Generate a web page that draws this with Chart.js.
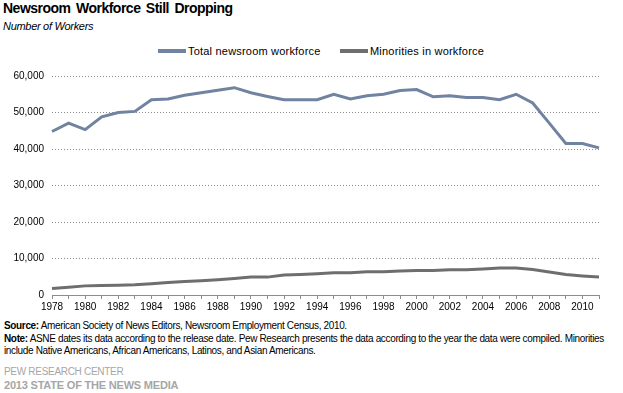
<!DOCTYPE html>
<html lang="en">
<head>
    <meta charset="UTF-8">
    <title>Newsroom Workforce Still Dropping</title>
    <script src="https://cdn.jsdelivr.net/npm/chart.js"></script>
    <style>
        body {
            margin: 0;
            width: 623px;
            height: 393px;
            background: #fff;
            font-family: Arial, 'Liberation Sans', sans-serif;
            color: #000;
            position: relative;
            overflow: hidden;
        }
        .title {
            position: absolute;
            left: 3px;
            top: 0px;
            font-size: 14px;
            font-weight: bold;
            letter-spacing: -0.5px;
            word-spacing: 2px;
        }
        .subtitle {
            position: absolute;
            left: 3px;
            top: 20px;
            font-size: 11px;
            font-style: italic;
            letter-spacing: -0.3px;
        }
        .legend {
            position: absolute;
            top: 45px;
            left: 0;
            font-size: 11px;
            letter-spacing: 0.2px;
        }
        .legend-item {
            position: absolute;
            white-space: nowrap;
        }
        .legend-item span.swatch {
            display: inline-block;
            width: 28px;
            height: 4px;
            vertical-align: middle;
            margin-right: 2px;
            position: relative;
            top: -1px;
        }
        .chart-box {
            position: absolute;
            left: 0;
            top: 40px;
            width: 623px;
            height: 280px;
        }
        .notes {
            position: absolute;
            left: 4px;
            top: 320px;
            width: 615px;
            font-size: 10px;
            line-height: 12px;
            letter-spacing: -0.35px;
        }
        .notes p { margin: 0 0 1px 0; }
        .org {
            position: absolute;
            left: 4px;
            top: 366px;
            font-size: 10px;
            color: #a6a6a6;
            letter-spacing: -0.3px;
        }
        .report {
            position: absolute;
            left: 4px;
            top: 379px;
            font-size: 11px;
            font-weight: bold;
            color: #a6a6a6;
            letter-spacing: -0.2px;
        }
    </style>
</head>
<body>
    <div class="title">Newsroom Workforce Still Dropping</div>
    <div class="subtitle">Number of Workers</div>
    <div class="legend" id="legend"></div>
    <div class="chart-box">
        <canvas id="workforceChart" width="623" height="280"></canvas>
    </div>
    <div class="notes">
        <p><b>Source:</b> American Society of News Editors, Newsroom Employment Census, 2010.</p>
        <p><b>Note:</b> ASNE dates its data according to the release date. Pew Research presents the data according to the year the data were compiled. Minorities include Native Americans, African Americans, Latinos, and Asian Americans.</p>
    </div>
    <div class="org">PEW RESEARCH CENTER</div>
    <div class="report">2013 STATE OF THE NEWS MEDIA</div>

    <script>
        const years = ['1978', '1979', '1980', '1981', '1982', '1983', '1984', '1985', '1986', '1987',
                       '1988', '1989', '1990', '1991', '1992', '1993', '1994', '1995', '1996', '1997',
                       '1998', '1999', '2000', '2001', '2002', '2003', '2004', '2005', '2006', '2007',
                       '2008', '2009', '2010', '2011'];

        const totalWorkforce = [44800, 47100, 45300, 48800, 50000, 50300, 53500, 53700, 54700, 55400,
                                56100, 56800, 55400, 54400, 53500, 53500, 53500, 55000, 53700, 54600,
                                55000, 56000, 56300, 54300, 54600, 54100, 54100, 53500, 55000, 52600,
                                47100, 41500, 41500, 40300];

        const minorityWorkforce = [1800, 2100, 2500, 2600, 2700, 2800, 3100, 3400, 3700, 3900,
                                   4200, 4500, 4900, 4900, 5500, 5600, 5800, 6100, 6100, 6400,
                                   6400, 6600, 6700, 6700, 6900, 6900, 7100, 7400, 7400, 7000,
                                   6300, 5600, 5200, 4900];

        const yTicks = [0, 10000, 20000, 30000, 40000, 50000, 60000];

        const seriesNames = ['Total newsroom workforce', 'Minorities in workforce'];
        const seriesColors = ['#7083a0', '#6e6e6e'];

        const fontFamily = "Arial, 'Liberation Sans', sans-serif";

        const datasets = [totalWorkforce, minorityWorkforce].map((values, i) => ({
            label: seriesNames[i],
            data: values,
            borderColor: seriesColors[i],
            backgroundColor: seriesColors[i],
            borderWidth: 3,
            pointRadius: 0,
            tension: 0,
            fill: false
        }));

        const ctx = document.getElementById('workforceChart').getContext('2d');
        new Chart(ctx, {
            type: 'line',
            data: { labels: years, datasets: datasets },
            options: {
                responsive: false,
                animation: false,
                layout: { padding: { top: 36, right: 24, left: 0, bottom: 0 } },
                plugins: {
                    legend: { display: false },
                    tooltip: { enabled: false }
                },
                scales: {
                    x: {
                        offset: false,
                        grid: {
                            drawOnChartArea: false,
                            drawTicks: true,
                            tickLength: 4,
                            color: '#8c8c8c'
                        },
                        border: { display: true, color: '#8c8c8c', width: 1 },
                        ticks: {
                            autoSkip: false,
                            maxRotation: 0,
                            padding: 2,
                            color: '#000',
                            font: { family: fontFamily, size: 10 },
                            callback: function (value, index) {
                                return (index % 2 === 0) ? years[index] : '';
                            }
                        },
                        afterFit: function (scale) { scale.height = 25; }
                    },
                    y: {
                        min: 0,
                        max: 60000,
                        afterBuildTicks: function (scale) {
                            scale.ticks = yTicks.map(v => ({ value: v }));
                        },
                        grid: {
                            drawTicks: false,
                            color: '#8c8c8c',
                            lineWidth: 1
                        },
                        border: { display: false, dash: [1, 2] },
                        ticks: {
                            padding: 8,
                            color: '#000',
                            font: { family: fontFamily, size: 10 },
                            callback: function (value) {
                                return value.toLocaleString('en-US');
                            }
                        },
                        afterFit: function (scale) { scale.width = 52; }
                    }
                }
            }
        });

        // legend, laid out by hand like the original
        const legendPos = [158, 340];
        const legend = document.getElementById('legend');
        seriesNames.forEach((name, i) => {
            const item = document.createElement('div');
            item.className = 'legend-item';
            item.style.left = legendPos[i] + 'px';
            const swatch = document.createElement('span');
            swatch.className = 'swatch';
            swatch.style.background = seriesColors[i];
            item.appendChild(swatch);
            item.appendChild(document.createTextNode(name));
            legend.appendChild(item);
        });
    </script>
</body>
</html>
